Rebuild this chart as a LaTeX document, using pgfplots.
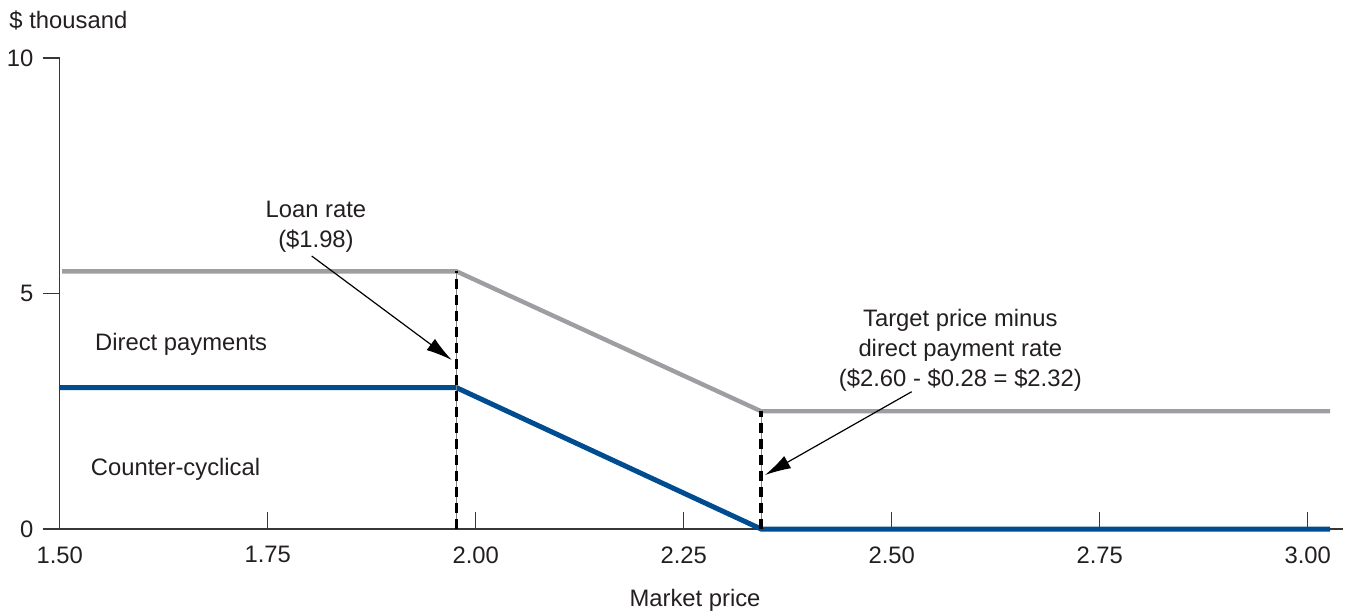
\documentclass[border=0pt]{standalone}
\usepackage{fontspec}
\setmainfont{Liberation Sans}
\usepackage{pgfplots}
\pgfplotsset{compat=1.18}
\usetikzlibrary{arrows.meta}
\definecolor{txt}{RGB}{35,31,32}
\definecolor{cblue}{RGB}{0,76,145}
\definecolor{cgray}{RGB}{157,158,161}
\definecolor{axgray}{RGB}{55,55,55}
\begin{document}
\begin{tikzpicture}[font=\fontsize{11.9}{15}\selectfont, text=txt]
\begin{axis}[
  at={(0,0)}, anchor=south west,
  scale only axis, width=641.65pt, height=235.5pt,
  xmin=1.5, xmax=3.0424, ymin=0, ymax=10,
  axis lines*=left,
  axis line style={axgray, line width=0.6pt},
  xtick={1.5,1.75,2,2.25,2.5,2.75,3},
  xticklabels={1.50,1.75,2.00,2.25,2.50,2.75,3.00},
  ytick={0,5,10},
  yticklabels={0,5,10},
  tick align=outside,
  major tick length=8.5pt,
  tick style={axgray, line width=0.6pt},
  xtick style={yshift=8.5pt},
  xticklabel style={anchor=north, inner sep=0pt},
  yticklabel style={anchor=east, inner sep=0pt, xshift=-4.5pt},
  /pgf/number format/assume math mode=true,
  clip=false,
]
\addplot[cgray, line width=2.2pt, line join=miter] coordinates {(1.503,5.47) (1.977,5.47) (2.343,2.5) (3.027,2.5)};
\addplot[cblue, line width=2.5pt, line join=miter] coordinates {(1.5,3.0) (1.977,3.0) (2.343,0) (3.027,0)};
\addplot[gray, line width=0.5pt] coordinates {(1.977,0) (1.977,5.47)};
\addplot[black, line width=1.6pt, dash pattern=on 5pt off 3pt] coordinates {(1.977,0) (1.977,5.47)};
\addplot[gray, line width=0.5pt] coordinates {(2.343,0) (2.343,2.5)};
\addplot[black, line width=1.6pt, dash pattern=on 5pt off 3pt] coordinates {(2.343,0) (2.343,2.5)};
\node[align=center, inner sep=0pt] at (axis cs:1.808,6.41) {Loan rate\\(\$1.98)};
\node[align=center, inner sep=0pt] at (axis cs:2.5825,3.80) {Target price minus\\direct payment rate\\(\$2.60 - \$0.28 = \$2.32)};
\node[anchor=base west, inner sep=0pt] at (axis cs:1.5422,3.80) {Direct payments};
\node[anchor=base west, inner sep=0pt] at (axis cs:1.537,1.146) {Counter-cyclical};
\draw[black, line width=0.6pt, -{Latex[length=13pt,width=7pt]}] (axis cs:1.8029,5.796) -- (axis cs:1.9712,3.588);
\draw[black, line width=0.6pt, -{Latex[length=13pt,width=7pt]}] (axis cs:2.524,2.915) -- (axis cs:2.3477,1.146);
\end{axis}
\node[anchor=base west, inner sep=0pt] at (-25.3pt,250.35pt) {\$ thousand};
\node[anchor=base, inner sep=0pt] at (317.65pt,-38.85pt) {Market price};
\pgfresetboundingbox
\path[use as bounding box] (-29.85pt,-41pt) rectangle (644.15pt,264.5pt);
\end{tikzpicture}
\end{document}
